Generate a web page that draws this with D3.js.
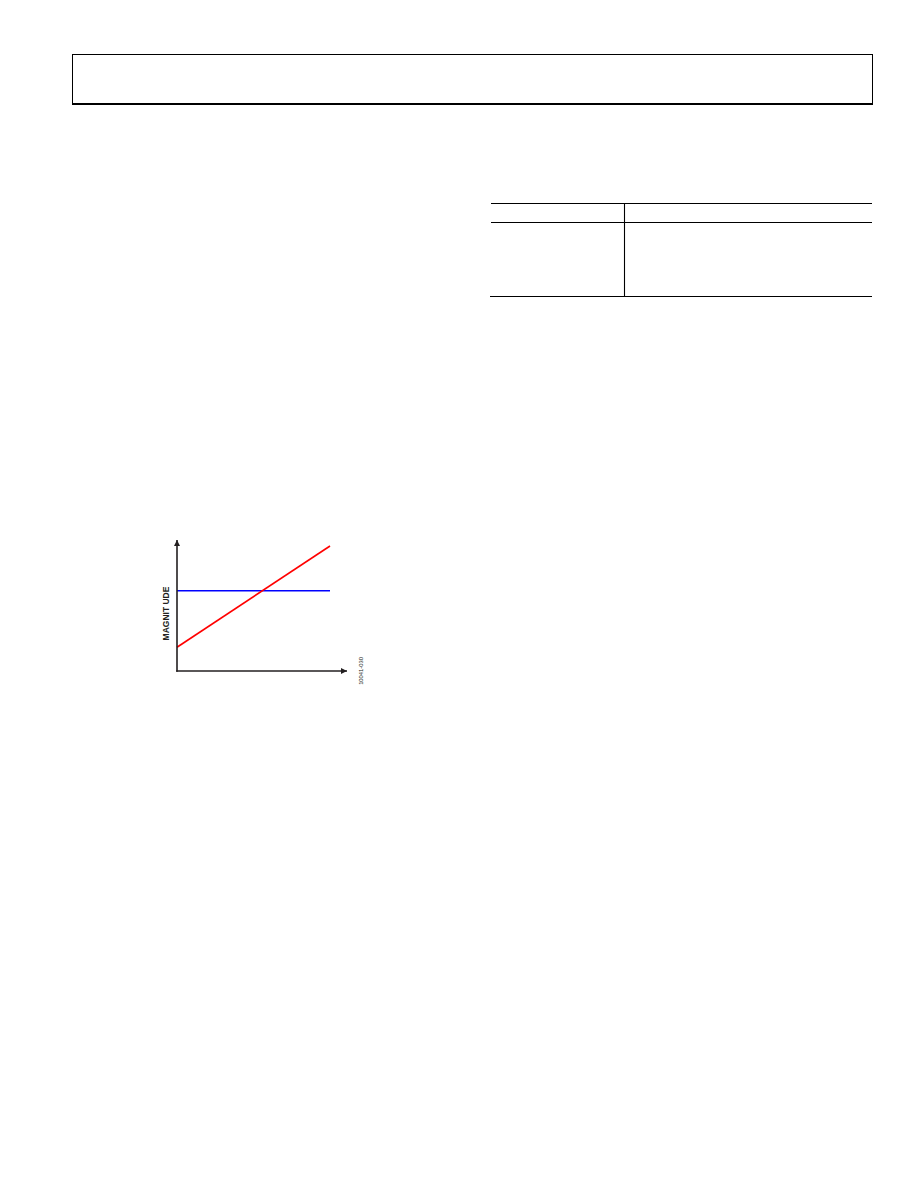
<!DOCTYPE html>
<html>
<head>
<meta charset="utf-8">
<script src="https://cdn.jsdelivr.net/npm/d3@7"></script>
<style>
  html, body { margin: 0; padding: 0; background: #fff; }
  svg { display: block; }
</style>
</head>
<body>
<script>
// ---- data ----
const xPoints = [0, 90];            // relative frequency/time (arbitrary units)
const blueValues = [61.3, 61.3];    // constant magnitude
const redValues = [18.1, 95.4];     // rising magnitude
const yLabel = "MAGNIT UDE";
const figureId = "10041-030";

const W = 918, H = 1188;
const FONT = "'Liberation Sans', Arial, sans-serif";
const svg = d3.select("body").append("svg").attr("width", W).attr("height", H);

// header box
svg.append("rect").attr("x", 72.5).attr("y", 54.5).attr("width", 800).attr("height", 49)
  .attr("fill", "none").attr("stroke", "#000").attr("stroke-width", 1);
svg.append("line").attr("x1", 72).attr("x2", 873).attr("y1", 104).attr("y2", 104)
  .attr("stroke", "#000").attr("stroke-width", 2);

// empty table
const tbl = svg.append("g").attr("stroke", "#000").attr("stroke-width", 1.1);
tbl.append("line").attr("x1", 491).attr("x2", 872).attr("y1", 203.5).attr("y2", 203.5);
tbl.append("line").attr("x1", 491).attr("x2", 872).attr("y1", 222.5).attr("y2", 222.5);
tbl.append("line").attr("x1", 490).attr("x2", 872).attr("y1", 296.5).attr("y2", 296.5);
tbl.append("line").attr("x1", 624.5).attr("x2", 624.5).attr("y1", 203).attr("y2", 297);

// chart
const x = d3.scaleLinear().domain([0, 100]).range([177, 347]);
const y = d3.scaleLinear().domain([0, 100]).range([671, 540]);

const defs = svg.append("defs");
defs.append("marker").attr("id", "arr").attr("viewBox", "0 0 10 10")
  .attr("refX", 10).attr("refY", 5).attr("markerWidth", 10).attr("markerHeight", 6)
  .attr("markerUnits", "userSpaceOnUse").attr("orient", "auto")
  .append("path").attr("d", "M0,0 L10,5 L0,10 z").attr("fill", "#231f20");

const g = svg.append("g");
const line = d3.line().x(d => x(d[0])).y(d => y(d[1]));

g.append("path").datum(xPoints.map((v, i) => [v, blueValues[i]]))
  .attr("d", line).attr("fill", "none").attr("stroke", "#0000ff").attr("stroke-width", 1.6);
g.append("path").datum(xPoints.map((v, i) => [v, redValues[i]]))
  .attr("d", line).attr("fill", "none").attr("stroke", "#ff0000").attr("stroke-width", 1.6);

// axes
g.append("line").attr("x1", x(0)).attr("x2", x(0)).attr("y1", y(0) + 0.8).attr("y2", y(100))
  .attr("stroke", "#231f20").attr("stroke-width", 1.6).attr("marker-end", "url(#arr)");
g.append("line").attr("x1", x(0) - 0.8).attr("x2", x(100)).attr("y1", y(0)).attr("y2", y(0))
  .attr("stroke", "#231f20").attr("stroke-width", 1.6).attr("marker-end", "url(#arr)");

g.append("text").attr("transform", `translate(169,613.5) rotate(-90)`)
  .attr("text-anchor", "middle").style("font-family", FONT)
  .attr("font-weight", "bold").attr("font-size", 8.5).attr("fill", "#231f20").text(yLabel);

g.append("text").attr("transform", `translate(362.5,671) rotate(-90)`)
  .attr("text-anchor", "middle").style("font-family", FONT)
  .attr("font-size", 5.8).attr("fill", "#231f20").text(figureId);
</script>
</body>
</html>
